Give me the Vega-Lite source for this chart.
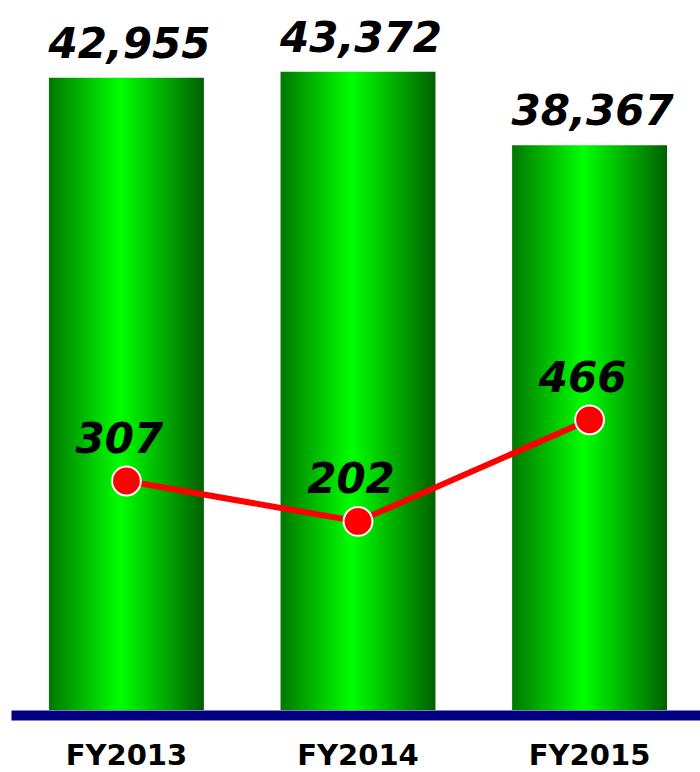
{
  "$schema": "https://vega.github.io/schema/vega-lite/v6.json",
  "width": 694,
  "height": 710,
  "autosize": {"type": "none"},
  "padding": {"left": 11, "top": 0, "right": 0, "bottom": 62},
  "background": "white",
  "config": {"view": {"stroke": null}},
  "data": {
    "values": [
      {"year": "FY2013", "sales": 42955, "count": 307},
      {"year": "FY2014", "sales": 43372, "count": 202},
      {"year": "FY2015", "sales": 38367, "count": 466}
    ]
  },
  "encoding": {
    "x": {
      "field": "year", "type": "nominal",
      "scale": {"paddingInner": 0.331, "paddingOuter": 0.164},
      "axis": {
        "title": null, "domain": true, "domainColor": "#000080", "domainWidth": 10, "offset": 5,
        "ticks": false, "labelAngle": 0,
        "labelFont": "DejaVu Sans", "labelFontSize": 29, "labelFontWeight": "bold",
        "labelColor": "#000000", "labelPadding": 26, "labelBaseline": "top"
      }
    }
  },
  "layer": [
    {
      "mark": {
        "type": "bar",
        "color": {
          "gradient": "linear",
          "x1": 0, "x2": 1, "y1": 0, "y2": 0,
          "stops": [
            {"offset": 0, "color": "#007800"},
            {"offset": 0.46, "color": "#00ff00"},
            {"offset": 1, "color": "#006000"}
          ]
        }
      },
      "encoding": {
        "y": {"field": "sales", "type": "quantitative", "scale": {"domain": [0, 48240], "nice": false}, "axis": null}
      }
    },
    {
      "mark": {"type": "text", "dy": -20, "dx": 3, "baseline": "alphabetic", "align": "center", "font": "DejaVu Sans", "fontSize": 42, "fontWeight": "bold", "fontStyle": "italic", "color": "#000000"},
      "encoding": {
        "y": {"field": "sales", "type": "quantitative", "scale": {"domain": [0, 48240], "nice": false}, "axis": null},
        "text": {"field": "sales", "type": "quantitative", "format": ","}
      }
    },
    {
      "mark": {"type": "line", "color": "#ff0000", "strokeWidth": 6},
      "encoding": {
        "y": {"field": "count", "type": "quantitative", "scale": {"domain": [-288, 1557], "nice": false, "zero": false}, "axis": null}
      }
    },
    {
      "mark": {"type": "point", "shape": "circle", "filled": true, "fill": "#ff0000", "stroke": "#ffffff", "strokeWidth": 2, "size": 830, "opacity": 1},
      "encoding": {
        "y": {"field": "count", "type": "quantitative", "scale": {"domain": [-288, 1557], "nice": false, "zero": false}, "axis": null}
      }
    },
    {
      "mark": {"type": "text", "dy": -28, "dx": -7, "baseline": "alphabetic", "align": "center", "font": "DejaVu Sans", "fontSize": 42, "fontWeight": "bold", "fontStyle": "italic", "color": "#000000"},
      "encoding": {
        "y": {"field": "count", "type": "quantitative", "scale": {"domain": [-288, 1557], "nice": false, "zero": false}, "axis": null},
        "text": {"field": "count", "type": "quantitative"}
      }
    }
  ],
  "resolve": {"scale": {"y": "independent"}}
}
